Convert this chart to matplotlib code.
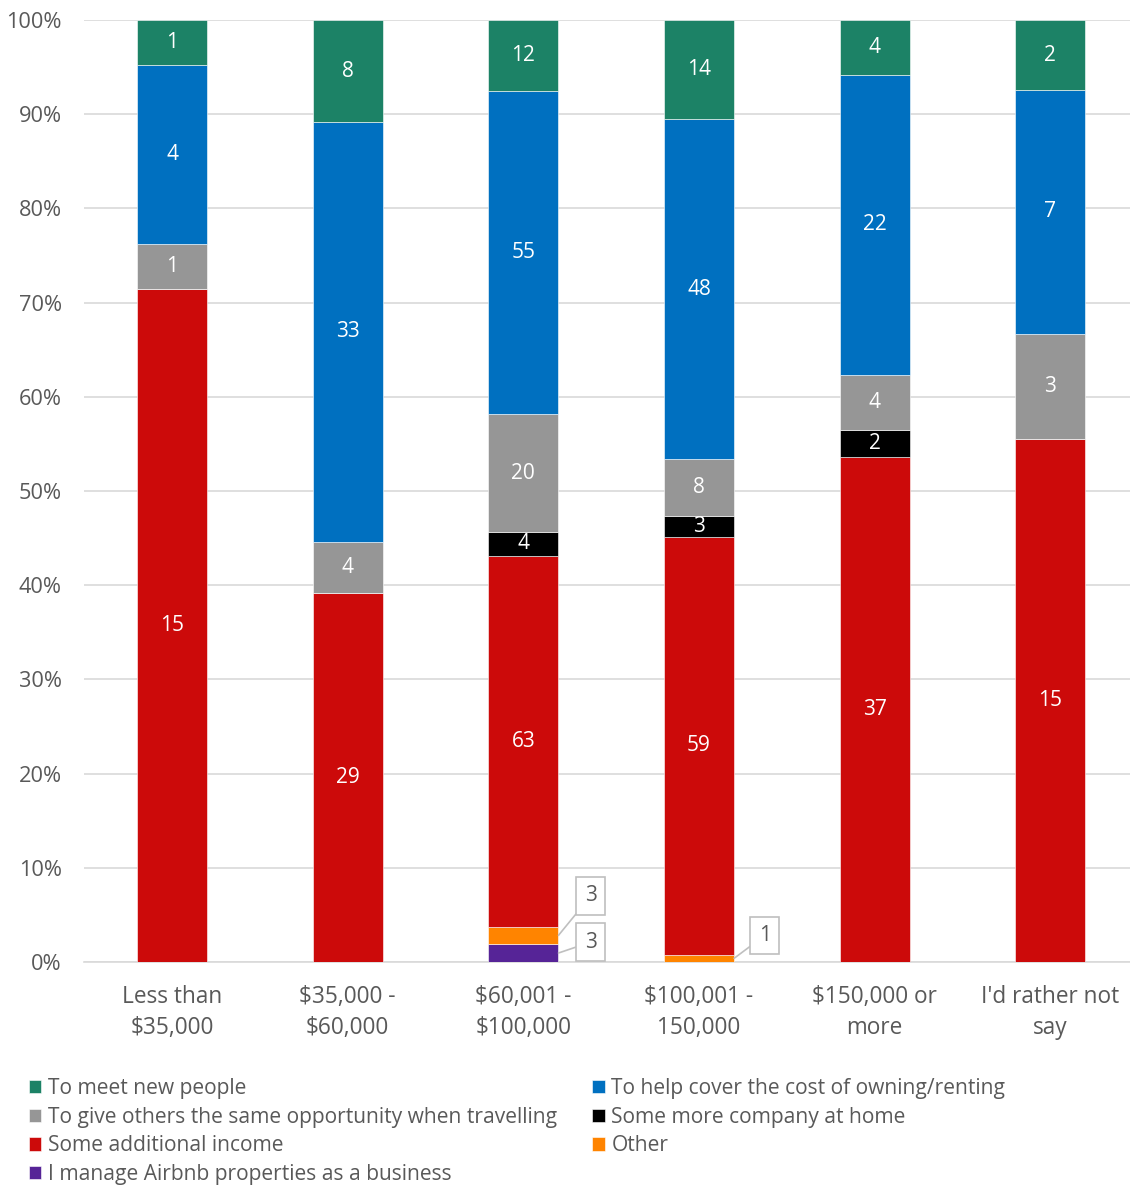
import matplotlib
matplotlib.use("Agg")
import matplotlib.pyplot as plt
import numpy as np

plt.rcParams['font.family'] = ['Open Sans', 'DejaVu Sans']

categories = ["Less than\n$35,000", "$35,000 -\n$60,000", "$60,001 -\n$100,000",
              "$100,001 -\n150,000", "$150,000 or\nmore", "I'd rather not\nsay"]

# bottom to top
business = [0, 0, 3, 0, 0, 0]
other = [0, 0, 3, 1, 0, 0]
income = [15, 29, 63, 59, 37, 15]
company = [0, 0, 4, 3, 2, 0]
give = [1, 4, 20, 8, 4, 3]
cover = [4, 33, 55, 48, 22, 7]
meet = [1, 8, 12, 14, 4, 2]

series = [
    ("I manage Airbnb properties as a business", business, "#562497"),
    ("Other", other, "#FF8400"),
    ("Some additional income", income, "#CC0A0A"),
    ("Some more company at home", company, "#000000"),
    ("To give others the same opportunity when travelling", give, "#969696"),
    ("To help cover the cost of owning/renting", cover, "#0070C0"),
    ("To meet new people", meet, "#1C8266"),
]

data = np.array([s[1] for s in series], dtype=float)
totals = data.sum(axis=0)
pct = data / totals * 100

fig = plt.figure(figsize=(11.3, 11.86), dpi=100)
ax = fig.add_axes([0.0745, 0.189, 0.9327, 0.794])

x = np.arange(len(categories))
width = 0.40
bottom = np.zeros(len(categories))
bars = {}
for k, ((name, vals, color), p, raw) in enumerate(zip(series, pct, data)):
    b = ax.bar(x, p, width, bottom=bottom, color=color, label=name,
               edgecolor='white', linewidth=0.4, zorder=3)
    bars[name] = b
    if k >= 2:
        for i in range(len(categories)):
            if raw[i] > 0:
                ax.text(x[i], bottom[i] + p[i] / 2, f"{int(raw[i])}", ha='center', va='center',
                        color='white', fontsize=15, zorder=4)
    bottom = bottom + p

# callouts for small segments
def callout(i, seg_idx, tx, ty):
    b0 = pct[:seg_idx, i].sum()
    mid = b0 + pct[seg_idx, i] / 2
    ax.annotate(f"{int(data[seg_idx, i])}", xy=(x[i] + width / 2, mid), xytext=(tx, ty),
                ha='left', va='center', fontsize=15, color='#595959',
                bbox=dict(boxstyle='square,pad=0.4', fc='white', ec='#BFBFBF', lw=1.2),
                arrowprops=dict(arrowstyle='-', color='#BFBFBF', lw=1.2, shrinkA=0, shrinkB=0),
                zorder=5)

callout(2, 1, 2.35, 7.0)
callout(2, 0, 2.35, 2.1)
callout(3, 1, 3.34, 2.8)

ax.set_xlim(-0.5, 5.5)
ax.set_ylim(0, 100)
ax.set_yticks(np.arange(0, 101, 10))
ax.set_yticklabels([f"{v}%" for v in range(0, 101, 10)])
ax.set_xticks(x)
ax.set_xticklabels(categories, fontsize=16.3, color='#595959', linespacing=1.35)
ax.tick_params(axis='y', labelsize=15.7, colors='#595959', length=0, pad=16)
ax.tick_params(axis='x', length=0, pad=17)
ax.grid(axis='y', color='#D9D9D9', lw=1.2, zorder=0)
for s in ['top', 'right', 'left']:
    ax.spines[s].set_visible(False)
ax.spines['bottom'].set_color('#D9D9D9')
ax.spines['bottom'].set_linewidth(1.2)

labels = ["To meet new people",
          "To give others the same opportunity when travelling",
          "Some additional income",
          "I manage Airbnb properties as a business",
          "To help cover the cost of owning/renting",
          "Some more company at home",
          "Other"]
handles = [bars[n] for n in labels]
leg = fig.legend(handles, labels, loc='upper left', bbox_to_anchor=(0.018, 0.098), ncol=2,
                 frameon=False, fontsize=15.1, handlelength=0.6, handleheight=0.6,
                 handletextpad=0.3, columnspacing=1.7, labelspacing=0.36,
                 borderaxespad=0)
for t in leg.get_texts():
    t.set_color('#595959')

fig.savefig("out.png", dpi=100)
